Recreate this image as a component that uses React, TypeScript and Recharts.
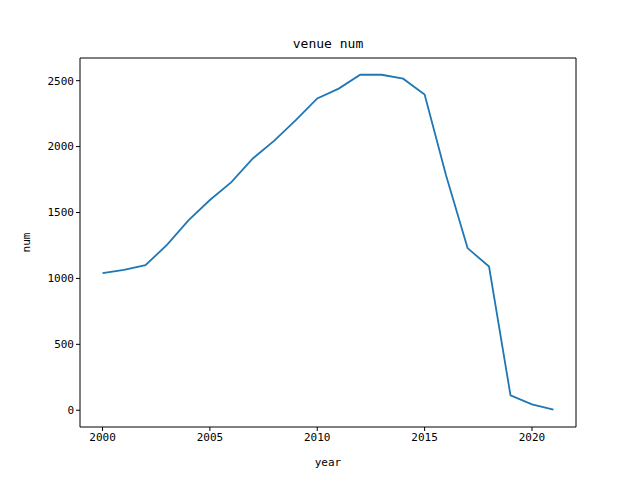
import React from "react";
import { LineChart, Line, XAxis, YAxis, ReferenceLine } from "recharts";

const years = [2000,2001,2002,2003,2004,2005,2006,2007,2008,2009,2010,2011,2012,2013,2014,2015,2016,2017,2018,2019,2020,2021];
const nums = [1040,1065,1100,1255,1440,1595,1730,1910,2045,2200,2365,2440,2545,2545,2515,2395,1780,1230,1090,113,45,5];
const xTicks = [2000,2005,2010,2015,2020];
const yTicks = [0,500,1000,1500,2000,2500];

const data = years.map((y, i) => ({ year: y, num: nums[i] }));
const font = "'DejaVu Sans Mono', monospace";
const tickStyle = { fontSize: 11, fill: "#000", fontFamily: font };

export default function App() {
  return (
    <div style={{ position: "absolute", left: 0, top: 0, width: 640, height: 480, background: "#fff" }}>
      <LineChart width={640} height={480} data={data} margin={{ top: 58, right: 64, left: 0, bottom: 0 }}>
        <text x={328} y={48} textAnchor="middle" style={{ fontSize: 13, fontFamily: font }}>venue num</text>
        <XAxis dataKey="year" type="number" domain={[1998.95, 2022.05]} ticks={xTicks} height={53}
          stroke="#000" tick={tickStyle} tickSize={4} interval={0} allowDataOverflow
          label={{ value: "year", position: "insideBottom", offset: 14, style: { fontSize: 11, fontFamily: font, fill: "#000" } }} />
        <YAxis type="number" domain={[-127, 2672]} ticks={yTicks} width={80} stroke="#000" tick={tickStyle} tickSize={4} interval={0} allowDataOverflow
          label={{ value: "num", angle: -90, position: "insideLeft", offset: 26, style: { fontSize: 11, fontFamily: font, fill: "#000", textAnchor: "middle" } }} />
        <ReferenceLine y={2672} stroke="#000" strokeWidth={1} />
        <ReferenceLine x={2022.05} stroke="#000" strokeWidth={1} />
        <Line dataKey="num" stroke="#1f77b4" strokeWidth={1.8} dot={false} isAnimationActive={false} />
      </LineChart>
    </div>
  );
}
